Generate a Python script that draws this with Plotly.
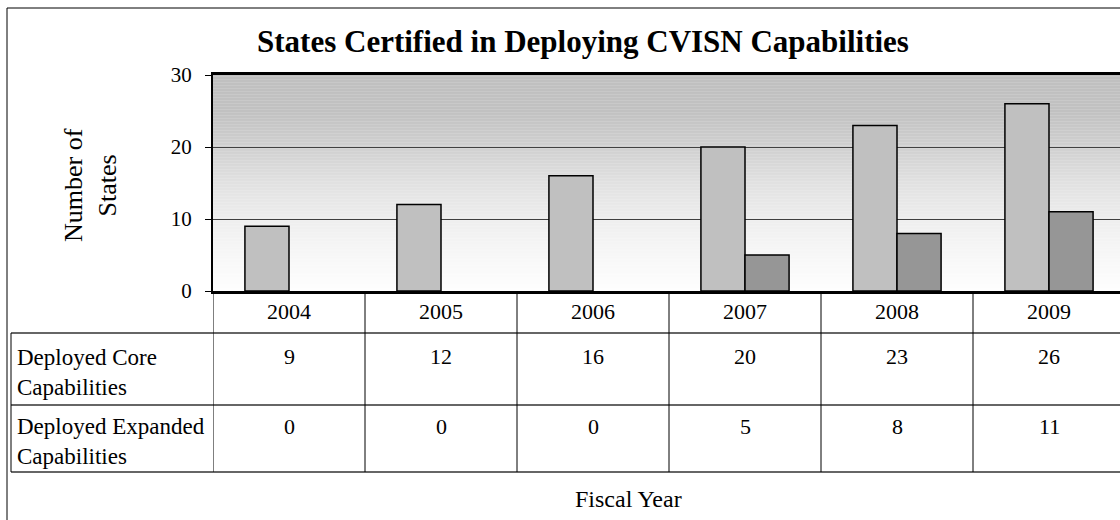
import plotly.graph_objects as go

years = ["2004", "2005", "2006", "2007", "2008", "2009"]
core = [9, 12, 16, 20, 23, 26]
expanded = [0, 0, 0, 5, 8, 11]
row_labels = ["Deployed Core<br>Capabilities", "Deployed Expanded<br>Capabilities"]

W, H = 1120, 520
L, R, T, B = 213, 0, 75, 229
PW, PH = W - L - R, H - T - B
CAT_W = 152
FONT = "Liberation Serif, Times New Roman, serif"


def px_x(px):
    return (px - L) / PW


def px_y(py):
    return (H - B - py) / PH


def txt(size):
    return dict(size=size, family=FONT, color="black")


fig = go.Figure()
fig.add_trace(go.Bar(x=list(range(len(years))), y=core, name="Deployed Core Capabilities",
                     marker=dict(color="#C0C0C0", line=dict(color="black", width=1.5))))
# no outline on empty bars so they don't leave a sliver on the baseline
fig.add_trace(go.Bar(x=list(range(len(years))), y=expanded, name="Deployed Expanded Capabilities",
                     marker=dict(color="#969696",
                                 line=dict(color="black", width=[1.5 if v else 0 for v in expanded]))))

# gradient background (gray top fading to white)
stops = [(30, 192), (25, 193), (20, 208), (15, 225), (10, 238), (5, 247), (0, 254)]
n = 144
for k in range(n):
    y0 = 30 * k / n
    y1 = 30 * (k + 1) / n
    ym = (y0 + y1) / 2
    for (a, ca), (b, cb) in zip(stops[1:], stops[:-1]):
        if a <= ym <= b:
            c = int(round(ca + (cb - ca) * (ym - a) / (b - a)))
            break
    fig.add_shape(type="rect", xref="x domain", yref="y", x0=0, x1=1, y0=y0, y1=y1 + 0.05,
                  fillcolor=f"rgb({c},{c},{c})", line=dict(width=0), layer="below")

# data table lines
for py in [333, 405, 472]:
    fig.add_shape(type="line", xref="paper", yref="paper", x0=px_x(11), x1=1, y0=px_y(py), y1=px_y(py),
                  line=dict(color="#666666", width=2))
fig.add_shape(type="line", xref="paper", yref="paper", x0=px_x(11), x1=px_x(11), y0=px_y(333), y1=px_y(472),
              line=dict(color="black", width=1))
for i in range(len(years) + 1):
    fig.add_shape(type="line", xref="x", yref="paper", x0=i - 0.5, x1=i - 0.5, y0=0, y1=px_y(472),
                  line=dict(color="black", width=1))

# outer chart frame
fig.add_shape(type="line", xref="paper", yref="paper", x0=px_x(7), x1=px_x(7), y0=px_y(8), y1=px_y(H + 5),
              line=dict(color="black", width=1))
fig.add_shape(type="line", xref="paper", yref="paper", x0=px_x(7), x1=1.01, y0=px_y(8), y1=px_y(8),
              line=dict(color="black", width=1))

# table text
for i, yr in enumerate(years):
    fig.add_annotation(x=i, y=px_y(311), xref="x", yref="paper", text=yr, showarrow=False,
                       xanchor="center", yanchor="middle", font=txt(22))
    fig.add_annotation(x=i, y=px_y(356), xref="x", yref="paper", text=str(core[i]), showarrow=False,
                       xanchor="center", yanchor="middle", font=txt(22))
    fig.add_annotation(x=i, y=px_y(426), xref="x", yref="paper", text=str(expanded[i]), showarrow=False,
                       xanchor="center", yanchor="middle", font=txt(22))
for lbl, py in zip(row_labels, [372, 441]):
    fig.add_annotation(x=px_x(15), y=px_y(py), xref="paper", yref="paper", text=lbl, showarrow=False,
                       xanchor="left", yanchor="middle", align="left", font=txt(23))

fig.add_annotation(x=px_x(573), y=px_y(499), xref="paper", yref="paper", text="Fiscal Year",
                   showarrow=False, xanchor="left", yanchor="middle", font=txt(24))
fig.add_annotation(x=px_x(90), y=px_y(185), xref="paper", yref="paper", text="Number of<br>States",
                   showarrow=False, textangle=-90, xanchor="center", yanchor="middle", font=txt(26))

fig.update_layout(
    width=W, height=H,
    margin=dict(l=L, r=R, t=T, b=B),
    paper_bgcolor="white", plot_bgcolor="white",
    title=dict(text="<b>States Certified in Deploying CVISN Capabilities</b>", x=583 / W,
               xanchor="center", y=1 - 41 / H, yanchor="middle", font=txt(31)),
    barmode="group", bargap=0.42, bargroupgap=0,
    showlegend=False,
    font=dict(family=FONT, color="black"),
)
fig.update_xaxes(range=[-0.5, -0.5 + PW / CAT_W], showticklabels=False, ticks="",
                 showline=True, mirror=True, linecolor="black", linewidth=2.5, showgrid=False, zeroline=False)
fig.update_yaxes(range=[0, 30], tickvals=[0, 10, 20, 30], ticks="outside", ticklen=6, tickcolor="black",
                 showline=True, linecolor="black", linewidth=2, showgrid=True, gridcolor="#404040",
                 gridwidth=1, zeroline=False, tickfont=txt(21), ticklabelstandoff=9)

fig.write_html("out.html", config={"displayModeBar": False},
               post_script="document.body.style.margin='0';")
